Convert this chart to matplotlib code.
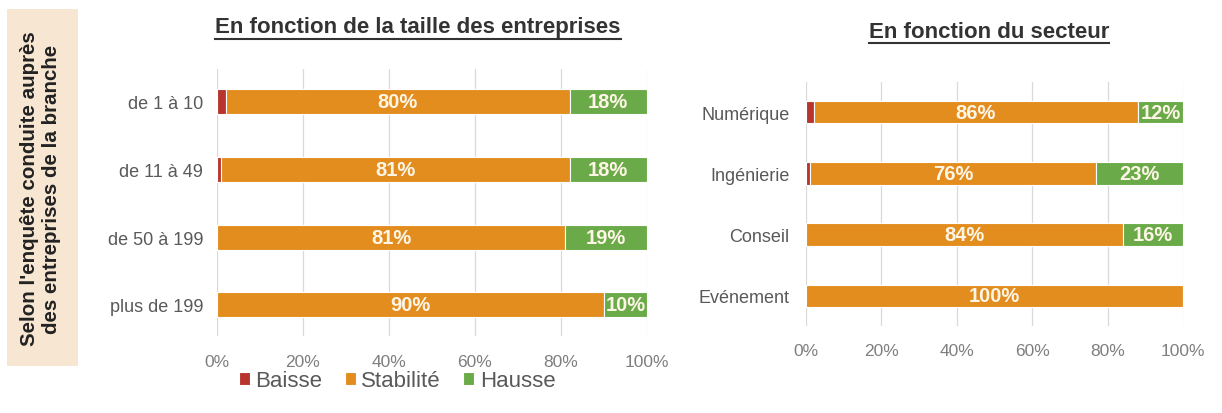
import numpy as np
import matplotlib.pyplot as plt
from matplotlib.patches import Rectangle
from matplotlib.lines import Line2D

plt.rcParams["font.family"] = ["Liberation Sans", "DejaVu Sans"]

# ---------------------------------------------------------------------------
# Data
# ---------------------------------------------------------------------------

size_labels = ["de 1 à 10", "de 11 à 49", "de 50 à 199", "plus de 199"]
size_baisse = [2, 1, 0, 0]
size_stabilite = [80, 81, 81, 90]
size_hausse = [18, 18, 19, 10]

sector_labels = ["Numérique", "Ingénierie", "Conseil", "Evénement"]
sector_baisse = [2, 1, 0, 0]
sector_stabilite = [86, 76, 84, 100]
sector_hausse = [12, 23, 16, 0]

series_names = ["Baisse", "Stabilité", "Hausse"]
colors = ["#b8352f", "#e38d1f", "#6aaa48"]
xticks = [0, 20, 40, 60, 80, 100]

W, H = 1222, 414
fig = plt.figure(figsize=(W / 100, H / 100), dpi=100)


def stacked(ax, labels, series, bar_h, ylim, ypad, xpad):
    y = np.arange(len(labels))
    left = np.zeros(len(labels))
    handles = []
    for name, vals, col in zip(series_names, series, colors):
        vals = np.array(vals, dtype=float)
        h = ax.barh(y, vals, left=left, height=bar_h, color=col,
                    edgecolor="white", linewidth=0.8, label=name, zorder=3)
        handles.append(h)
        if name != "Baisse":
            for yi, l, v in zip(y, left, vals):
                if v >= 5:
                    ax.text(l + v / 2, yi, f"{int(v)}%", ha="center", va="center",
                            color="#fdf5e6", fontsize=14.5, fontweight="bold", zorder=4)
        left += vals
    ax.set_xlim(0, 100)
    ax.set_ylim(*ylim)
    ax.set_yticks(y)
    ax.set_yticklabels(labels, fontsize=13, color="#595959")
    ax.set_xticks(xticks)
    ax.set_xticklabels([f"{t}%" for t in xticks], fontsize=12.5, color="#7f7f7f")
    ax.tick_params(length=0)
    ax.tick_params(axis="y", pad=ypad)
    ax.tick_params(axis="x", pad=xpad)
    ax.grid(axis="x", color="#d9d9d9", linewidth=0.9, zorder=0)
    for s in ax.spines.values():
        s.set_visible(False)
    return handles


# left panel: by company size
ax1 = fig.add_axes([217 / W, 1 - 337 / H, 430 / W, 267 / H])
handles = stacked(ax1, size_labels, [size_baisse, size_stabilite, size_hausse],
                  0.37, (3.46, -0.48), 10, 13)

# right panel: by sector
ax2 = fig.add_axes([806 / W, 1 - 327 / H, 377 / W, 244 / H])
stacked(ax2, sector_labels, [sector_baisse, sector_stabilite, sector_hausse],
        0.37, (3.49, -0.49), 12, 12)

# legend under the left panel
fig.legend(handles, series_names, loc="center", bbox_to_anchor=(397 / W, 1 - 382 / H),
           ncol=3, frameon=False, fontsize=16, handlelength=0.5, handleheight=0.5,
           handletextpad=0.25, columnspacing=1.0, labelcolor="#595959")

# side box
fig.patches.append(Rectangle((7 / W, 1 - 367 / H), 71 / W, 357 / H,
                             transform=fig.transFigure, facecolor="#f7e6d2",
                             edgecolor="none", zorder=0))
fig.text(41 / W, 1 - 189 / H, "Selon l'enquête conduite auprès\ndes entreprises de la branche",
         rotation=90, ha="center", va="center", fontsize=14.8, fontweight="bold",
         color="#222222", linespacing=1.2)

# underlined titles
titles = [("En fonction de la taille des entreprises", 418, 28),
          ("En fonction du secteur", 989, 32)]
fig.canvas.draw()
renderer = fig.canvas.get_renderer()
for txt, cx, cy in titles:
    t = fig.text(cx / W, 1 - cy / H, txt, ha="center", va="center",
                 fontsize=16, fontweight="bold", color="#333333")
    bb = t.get_window_extent(renderer=renderer)
    yline = (bb.y0 - 1) / H
    fig.lines.append(Line2D([bb.x0 / W, bb.x1 / W], [yline, yline],
                            transform=fig.transFigure, color="#333333", linewidth=1.5))

fig.savefig("out.png", dpi=100)
